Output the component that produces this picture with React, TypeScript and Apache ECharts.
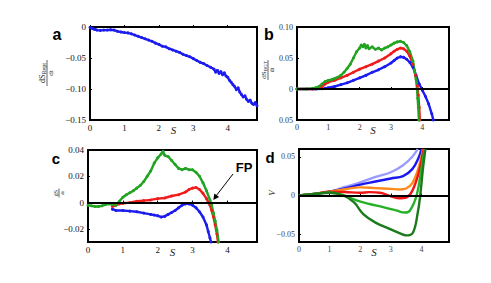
import React, { useEffect, useRef } from "react";
import * as echarts from "echarts";

// ---------- Data ----------
const xTicks = [0, 1, 2, 3, 4];
const yTicksA = [-0.15, -0.1, -0.05, 0];
const yTicksB = [-0.05, 0, 0.05, 0.1];
const yTicksC = [-0.02, 0, 0.02, 0.04];
const yTicksD = [-0.05, 0, 0.05];

// panel a : dS_Rept/dt (blue)
const aBlue: [number, number][] = [
  [0.0, -0.001], [0.05, -0.002], [0.1, -0.003], [0.15, -0.004], [0.2, -0.005], [0.3, -0.0055],
  [0.4, -0.005], [0.5, -0.005], [0.6, -0.0045], [0.7, -0.005], [0.8, -0.007], [0.9, -0.008],
  [1.0, -0.009], [1.1, -0.0095], [1.2, -0.011], [1.3, -0.013], [1.4, -0.015], [1.5, -0.017],
  [1.6, -0.019], [1.7, -0.021], [1.8, -0.023], [1.9, -0.026], [2.0, -0.028], [2.1, -0.031],
  [2.2, -0.032], [2.3, -0.035], [2.4, -0.037], [2.5, -0.039], [2.6, -0.041], [2.7, -0.044],
  [2.8, -0.046], [2.9, -0.048], [3.0, -0.051], [3.1, -0.054], [3.2, -0.057], [3.3, -0.059],
  [3.4, -0.062], [3.5, -0.065], [3.6, -0.068], [3.65, -0.073], [3.7, -0.07], [3.75, -0.075],
  [3.8, -0.072], [3.85, -0.077], [3.9, -0.074], [3.95, -0.079], [4.0, -0.081], [4.05, -0.086],
  [4.1, -0.089], [4.15, -0.093], [4.2, -0.096], [4.25, -0.101], [4.3, -0.098], [4.35, -0.105],
  [4.4, -0.109], [4.45, -0.113], [4.5, -0.111], [4.55, -0.117], [4.6, -0.12], [4.65, -0.118],
  [4.7, -0.123], [4.75, -0.125], [4.8, -0.122], [4.85, -0.127],
];

// panel b : dS_BGT/dt
const bGreen: [number, number][] = [
  [0, 0], [0.3, 0], [0.5, 0.001], [0.6, 0.002], [0.7, 0.004], [0.8, 0.008], [0.9, 0.012],
  [1.0, 0.014], [1.1, 0.015], [1.2, 0.017], [1.3, 0.019], [1.4, 0.022], [1.5, 0.027],
  [1.6, 0.033], [1.7, 0.04], [1.8, 0.05], [1.9, 0.06], [2.0, 0.066], [2.05, 0.071],
  [2.1, 0.068], [2.15, 0.072], [2.2, 0.066], [2.25, 0.07], [2.3, 0.065], [2.4, 0.068],
  [2.5, 0.064], [2.6, 0.066], [2.7, 0.063], [2.8, 0.066], [2.9, 0.068], [3.0, 0.071],
  [3.1, 0.074], [3.2, 0.076], [3.3, 0.077], [3.4, 0.075], [3.5, 0.07], [3.6, 0.06],
  [3.7, 0.045], [3.75, 0.03], [3.8, 0.015], [3.83, 0.0], [3.85, -0.015], [3.87, -0.03], [3.89, -0.05],
];
const bRed: [number, number][] = [
  [0, 0], [0.5, 0], [0.7, 0.001], [0.8, 0.004], [0.9, 0.008], [1.0, 0.011], [1.2, 0.014],
  [1.4, 0.018], [1.6, 0.022], [1.8, 0.027], [2.0, 0.032], [2.2, 0.036], [2.4, 0.04],
  [2.6, 0.045], [2.8, 0.05], [3.0, 0.057], [3.1, 0.061], [3.2, 0.064], [3.3, 0.066],
  [3.4, 0.065], [3.5, 0.061], [3.6, 0.053], [3.7, 0.04], [3.78, 0.022], [3.84, 0.005],
  [3.87, -0.01], [3.9, -0.03], [3.92, -0.05],
];
const bBlue: [number, number][] = [
  [0, 0], [0.6, 0], [0.8, 0.0005], [0.9, 0.001], [1.0, 0.002], [1.2, 0.004], [1.4, 0.007],
  [1.6, 0.01], [1.8, 0.014], [2.0, 0.018], [2.2, 0.022], [2.4, 0.027], [2.6, 0.031],
  [2.8, 0.036], [3.0, 0.042], [3.1, 0.046], [3.2, 0.05], [3.3, 0.052], [3.4, 0.051],
  [3.5, 0.048], [3.6, 0.043], [3.7, 0.035], [3.8, 0.022], [3.9, 0.008], [4.0, -0.002],
  [4.1, -0.012], [4.2, -0.024], [4.3, -0.04], [4.35, -0.05],
];

// panel c : dS/dt
const cGreen: [number, number][] = [
  [0, -0.002], [0.1, -0.0025], [0.2, -0.003], [0.3, -0.003], [0.4, -0.0025], [0.5, -0.0015],
  [0.6, -0.001], [0.7, -0.0015], [0.8, -0.002], [0.9, 0.001], [1.0, 0.004], [1.1, 0.006],
  [1.2, 0.0075], [1.3, 0.009], [1.4, 0.011], [1.5, 0.013], [1.6, 0.016], [1.7, 0.02],
  [1.8, 0.024], [1.9, 0.03], [2.0, 0.034], [2.1, 0.037], [2.15, 0.039], [2.2, 0.036],
  [2.3, 0.035], [2.4, 0.032], [2.5, 0.029], [2.6, 0.026], [2.7, 0.025], [2.8, 0.026],
  [2.9, 0.025], [3.0, 0.025], [3.1, 0.023], [3.2, 0.02], [3.3, 0.015], [3.4, 0.009],
  [3.5, 0.002], [3.55, -0.002], [3.6, -0.008], [3.65, -0.014], [3.7, -0.021], [3.75, -0.03],
];
const cRed: [number, number][] = [
  [0.7, -0.003], [0.8, -0.002], [0.9, -0.001], [1.0, -0.0005], [1.2, 0.0], [1.4, 0.001],
  [1.6, 0.0015], [1.8, 0.002], [2.0, 0.003], [2.2, 0.0035], [2.4, 0.005], [2.6, 0.006],
  [2.8, 0.008], [2.9, 0.01], [3.0, 0.011], [3.1, 0.0115], [3.2, 0.01], [3.3, 0.007],
  [3.4, 0.003], [3.5, -0.002], [3.55, -0.006], [3.6, -0.011], [3.65, -0.017], [3.7, -0.024], [3.73, -0.03],
];
const cBlue: [number, number][] = [
  [0.7, -0.005], [0.8, -0.006], [1.0, -0.006], [1.2, -0.0065], [1.4, -0.007], [1.6, -0.008],
  [1.8, -0.009], [1.9, -0.0095], [2.0, -0.01], [2.1, -0.011], [2.2, -0.0105], [2.3, -0.009],
  [2.4, -0.0075], [2.5, -0.006], [2.6, -0.004], [2.7, -0.002], [2.8, -0.001], [2.9, -0.001],
  [3.0, -0.002], [3.1, -0.004], [3.2, -0.007], [3.3, -0.011], [3.4, -0.017], [3.45, -0.022],
  [3.5, -0.027], [3.53, -0.03],
];

// panel d : V
const dLightBlue: [number, number][] = [
  [0, 0], [0.5, 0.002], [1, 0.005], [1.5, 0.011], [2, 0.017], [2.5, 0.024], [3, 0.03],
  [3.4, 0.039], [3.7, 0.05], [3.88, 0.06],
];
const dBlue: [number, number][] = [
  [0, 0], [0.5, 0.002], [1, 0.005], [1.5, 0.009], [2, 0.014], [2.5, 0.018], [3, 0.022],
  [3.4, 0.025], [3.7, 0.034], [3.9, 0.048], [4.0, 0.06],
];
const dOrange: [number, number][] = [
  [0, 0], [0.5, 0.002], [1, 0.005], [1.5, 0.008], [2, 0.0105], [2.5, 0.0095], [3, 0.0085],
  [3.3, 0.0078], [3.5, 0.009], [3.7, 0.016], [3.9, 0.035], [4.05, 0.06],
];
const dRed: [number, number][] = [
  [0, 0], [0.5, 0.002], [1, 0.005], [1.5, 0.0045], [2, 0.0035], [2.3, 0.0043], [2.65, 0.0035],
  [3, -0.001], [3.3, -0.0035], [3.5, -0.0026], [3.7, 0.006], [3.9, 0.028], [4.07, 0.06],
];
const dGreen: [number, number][] = [
  [0, 0], [0.5, 0.002], [1, 0.004], [1.4, 0.001], [1.9, -0.0065], [2.3, -0.011], [2.75, -0.015],
  [3.2, -0.0196], [3.45, -0.022], [3.62, -0.0196], [3.84, 0], [4.0, 0.035], [4.1, 0.06],
];
const dDarkGreen: [number, number][] = [
  [0, 0], [0.5, 0.002], [1, 0.0035], [1.45, 0], [1.8, -0.009], [2.1, -0.024], [2.5, -0.035],
  [2.96, -0.043], [3.3, -0.049], [3.5, -0.0515], [3.72, -0.048], [3.88, -0.022], [3.96, 0],
  [4.05, 0.035], [4.13, 0.06],
];

// ---------- Styling ----------
const SERIF = "'Liberation Serif', 'DejaVu Serif', serif";
const SANS = "'Liberation Sans', Arial, sans-serif";
const BLUE = "#1c1cf0";
const RED = "#f01c1c";
const GREEN = "#22a322";

const fmt = (v: number) => {
  const r = Math.round(v * 100) / 100;
  if (r === 0) return "0";
  const s = Math.abs(r).toFixed(2);
  return r < 0 ? "\u2212" + s : s;
};

function xAxis(gridIndex: number, max: number, color: string, size: number) {
  return {
    type: "value",
    gridIndex,
    min: 0,
    max,
    name: "S",
    nameLocation: "middle",
    nameGap: 4,
    nameMoveOverlap: false,
    nameTextStyle: { fontFamily: SERIF, fontStyle: "italic", fontSize: 11, color: "#222" },
    axisLine: { show: false },
    splitLine: { show: false },
    axisTick: { show: true, inside: true, length: 2, customValues: xTicks, lineStyle: { color: "#000", width: 1 } },
    axisLabel: { customValues: xTicks, margin: 3, fontFamily: SERIF, fontSize: size, color, formatter: (v: number) => String(Math.round(v)) },
  };
}

function yAxis(gridIndex: number, min: number, max: number, ticks: number[], color: string, size: number, formatter: (v: number) => string) {
  return {
    type: "value",
    gridIndex,
    min,
    max,
    axisLine: { show: false },
    splitLine: { show: false },
    axisTick: { show: true, inside: true, length: 2, customValues: ticks, lineStyle: { color: "#000", width: 1 } },
    axisLabel: { customValues: ticks, margin: 4, fontFamily: SERIF, fontSize: size, color, formatter },
  };
}

function dotted(data: [number, number][], color: string, idx: number, z = 3) {
  return {
    type: "line",
    xAxisIndex: idx,
    yAxisIndex: idx,
    data,
    showSymbol: true,
    symbol: "circle",
    symbolSize: 3,
    itemStyle: { color },
    lineStyle: { color, width: 2.4 },
    z,
    silent: true,
  };
}

function smooth(data: [number, number][], color: string, idx: number) {
  return {
    type: "line",
    xAxisIndex: idx,
    yAxisIndex: idx,
    data,
    smooth: 0.4,
    showSymbol: false,
    lineStyle: { color, width: 2.4 },
    z: 3,
    silent: true,
  };
}

function zeroLine(idx: number) {
  return {
    type: "line",
    xAxisIndex: idx,
    yAxisIndex: idx,
    data: [],
    silent: true,
    z: 2,
    markLine: {
      silent: true,
      symbol: "none",
      animation: false,
      label: { show: false },
      lineStyle: { color: "#000", width: 2, type: "solid" },
      data: [{ yAxis: 0 }],
    },
  };
}

function fraction(x: number, y: number, num: string, sub: string, w: number, size: number) {
  return {
    type: "group",
    x,
    y,
    rotation: Math.PI / 2,
    children: [
      {
        type: "text",
        style: {
          x: 0,
          y: -0.5,
          text: sub ? `{n|${num}}{s|${sub}}` : `{n|${num}}`,
          align: "center",
          verticalAlign: "bottom",
          rich: {
            n: { fontFamily: SERIF, fontSize: size, fill: "#222" },
            s: { fontFamily: SERIF, fontSize: size - 2, fill: "#222", verticalAlign: "bottom", padding: [3, 0, 0, 0] },
          },
        },
      },
      { type: "line", shape: { x1: -w / 2, y1: 0, x2: w / 2, y2: 0 }, style: { stroke: "#222", lineWidth: 0.7 } },
      {
        type: "text",
        style: { x: 0, y: 0.5, text: "dt", align: "center", verticalAlign: "top", fontFamily: SERIF, fontSize: size - 1, fill: "#222" },
      },
    ],
  };
}

const letter = (t: string, x: number, y: number, size: number) => ({
  type: "text",
  style: { text: t, x, y, align: "center", verticalAlign: "middle", fontFamily: SANS, fontWeight: "bold", fontSize: size, fill: "#000" },
});

export default function App() {
  const ref = useRef<HTMLDivElement>(null);
  useEffect(() => {
    if (!ref.current) return;
    const chart = echarts.init(ref.current, undefined, { renderer: "svg" });
    const gridBase = { show: true, borderColor: "#000", borderWidth: 2, backgroundColor: "transparent", containLabel: false };
    const option: any = {
      animation: false,
      grid: [
        { ...gridBase, left: 90, top: 27, width: 167, height: 93 },
        { ...gridBase, left: 297, top: 27, width: 152, height: 93 },
        { ...gridBase, left: 88, top: 150, width: 169, height: 92 },
        { ...gridBase, left: 299, top: 149, width: 150, height: 93 },
      ],
      xAxis: [
        xAxis(0, 4.85, "#111", 9),
        xAxis(1, 4.85, "#333", 8),
        xAxis(2, 4.85, "#111", 9),
        xAxis(3, 4.9, "#444", 8),
      ],
      yAxis: [
        yAxis(0, -0.15, 0, yTicksA, "#111", 9, fmt),
        yAxis(1, -0.05, 0.1, yTicksB, "#333", 8, (v: number) => (Math.round(v * 100) === -5 ? "0.05" : fmt(v))),
        yAxis(2, -0.03, 0.04, yTicksC, "#111", 9, fmt),
        yAxis(3, -0.06, 0.06, yTicksD, "#444", 8, fmt),
      ],
      series: [
        dotted(aBlue, BLUE, 0),
        zeroLine(1),
        dotted(bBlue, BLUE, 1),
        dotted(bRed, RED, 1),
        dotted(bGreen, GREEN, 1),
        zeroLine(2),
        dotted(cBlue, BLUE, 2),
        dotted(cRed, RED, 2),
        dotted(cGreen, GREEN, 2),
        zeroLine(3),
        smooth(dLightBlue, "#9a9aff", 3),
        smooth(dBlue, "#1818f0", 3),
        smooth(dOrange, "#ff8a1c", 3),
        smooth(dRed, "#ee1515", 3),
        smooth(dGreen, "#26b026", 3),
        smooth(dDarkGreen, "#1b7a1b", 3),
      ],
      graphic: [
        letter("a", 57, 34, 16),
        letter("b", 269, 34, 16),
        letter("c", 56, 158, 15),
        letter("d", 270, 157, 15),
        {
          type: "text",
          style: { text: "FP", x: 244, y: 167, align: "center", verticalAlign: "middle", fontFamily: SANS, fontWeight: "bold", fontSize: 13, fill: "#000" },
        },
        { type: "line", shape: { x1: 233, y1: 174, x2: 216, y2: 196 }, style: { stroke: "#000", lineWidth: 1 } },
        { type: "polygon", shape: { points: [[213.3, 200], [219.1, 197.1], [214.3, 193.5]] }, style: { fill: "#000" } },
        fraction(47, 73, "dS", "Rept", 26, 8),
        fraction(268, 70, "dS", "BGT", 20, 7),
        fraction(59, 193, "dS", "", 9, 6),
        {
          type: "text",
          rotation: Math.PI / 2,
          x: 272,
          y: 193,
          style: { text: "V", x: 0, y: 0, align: "center", verticalAlign: "middle", fontFamily: SERIF, fontStyle: "italic", fontSize: 9, fill: "#333" },
        },
      ],
    };
    chart.setOption(option);
    return () => chart.dispose();
  }, []);
  return <div ref={ref} style={{ position: "absolute", left: 0, top: 0, width: 491, height: 283 }} />;
}
